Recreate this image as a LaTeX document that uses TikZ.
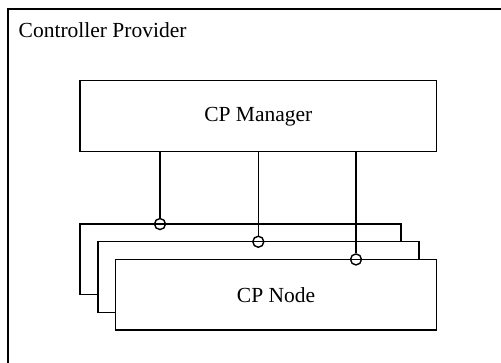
\documentclass[tikz,border=0pt]{standalone}
\usepackage{fontspec}
\setmainfont{Liberation Serif}
\begin{document}
\begin{tikzpicture}[x=1pt,y=-1pt,line width=1.4pt,
  box/.style={draw=black,fill=white,minimum width=321pt,minimum height=70.5pt,inner sep=0pt,font=\fontsize{21.5}{24}\selectfont},
  port/.style={draw=black,circle,minimum size=11pt,inner sep=0pt}]
\useasboundingbox (0,0) rectangle (501,362);
\fill[white] (0,0) rectangle (501,362);
% outer frame
\draw (505,9) -- (8,9) -- (8,366);
\node[anchor=base west,inner sep=0pt,font=\fontsize{21.5}{24}\selectfont] (title) at (18,37) {Controller Provider};
% manager
\node[box,minimum width=356.7pt,minimum height=71pt] (mgr) at (258.3,116.2) {CP Manager};
% node stack
\node[box] (n1) at (240.5,259.3) {};
\node[box] (n2) at (258.3,277) {};
\node[box] (n3) at (276.1,294.7) {CP Node};
% ports
\node[port] (c1) at (160,224.05) {};
\node[port] (c2) at (258.3,241.75) {};
\node[port] (c3) at (356,259.45) {};
\draw (mgr.south -| c1) -- (c1.north);
\draw (mgr.south -| c2) -- (c2.north);
\draw (mgr.south -| c3) -- (c3.north);
\end{tikzpicture}
\end{document}
